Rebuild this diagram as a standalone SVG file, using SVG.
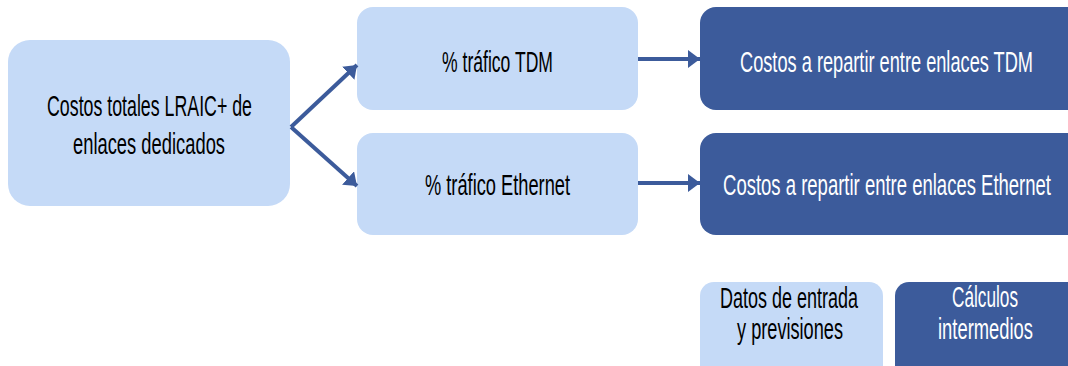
<svg xmlns="http://www.w3.org/2000/svg" width="1068" height="366" viewBox="0 0 1068 366">
<style>
.light{fill:#C5DAF7}
.dark{fill:#3C5B9B}
text{font-family:"Liberation Sans Narrow","Liberation Sans",Arial,sans-serif;font-size:29px;text-anchor:middle}
.tl{fill:#000}
.td{fill:#fff}
.conn{stroke:#3C5B9B;stroke-width:4;fill:none}
</style>
<defs>
<marker id="ah" markerUnits="userSpaceOnUse" markerWidth="14" markerHeight="20" refX="12" refY="9" orient="auto">
<path d="M0,0 L12,9 L0,18 Z" fill="#3C5B9B"/>
</marker>
</defs>
<g id="n-total">
<rect class="light" x="8" y="40" width="282" height="166" rx="22"/>
<text class="tl" transform="matrix(0.62,0,0,1,149.5,116)" textLength="330.6" lengthAdjust="spacingAndGlyphs">Costos totales LRAIC+ de</text>
<text class="tl" transform="matrix(0.62,0,0,1,149,154)" textLength="245.2" lengthAdjust="spacingAndGlyphs">enlaces dedicados</text>
</g>
<g id="n-tdm">
<rect class="light" x="357" y="7" width="281" height="103" rx="16"/>
<text class="tl" transform="matrix(0.62,0,0,1,497.5,71.5)" textLength="179" lengthAdjust="spacingAndGlyphs">% tráfico TDM</text>
</g>
<g id="n-eth">
<rect class="light" x="357" y="133" width="281" height="102" rx="16"/>
<text class="tl" transform="matrix(0.62,0,0,1,497.5,195)" textLength="233.9" lengthAdjust="spacingAndGlyphs">% tráfico Ethernet</text>
</g>
<g id="n-cost-tdm">
<path class="dark" d="M716,7 H1068 V110 H716 A16,16 0 0 1 700,94 V23 A16,16 0 0 1 716,7 Z"/>
<text class="td" transform="matrix(0.62,0,0,1,886.5,71.5)" textLength="472.6" lengthAdjust="spacingAndGlyphs">Costos a repartir entre enlaces TDM</text>
</g>
<g id="n-cost-eth">
<path class="dark" d="M716,133 H1068 V235 H716 A16,16 0 0 1 700,219 V149 A16,16 0 0 1 716,133 Z"/>
<text class="td" transform="matrix(0.62,0,0,1,887,195)" textLength="529" lengthAdjust="spacingAndGlyphs">Costos a repartir entre enlaces Ethernet</text>
</g>
<g id="legend-input">
<path class="light" d="M714,282 H869 A14,14 0 0 1 883,296 V366 H700 V296 A14,14 0 0 1 714,282 Z"/>
<text class="tl" transform="matrix(0.62,0,0,1,789,308)" textLength="222.6" lengthAdjust="spacingAndGlyphs">Datos de entrada</text>
<text class="tl" transform="matrix(0.62,0,0,1,790,339)" textLength="171" lengthAdjust="spacingAndGlyphs">y previsiones</text>
</g>
<g id="legend-calc">
<path class="dark" d="M909,282 H1068 V366 H895 V296 A14,14 0 0 1 909,282 Z"/>
<text class="td" transform="matrix(0.62,0,0,1,985,307)" textLength="106.5" lengthAdjust="spacingAndGlyphs">Cálculos</text>
<text class="td" transform="matrix(0.62,0,0,1,985.5,339)" textLength="153.2" lengthAdjust="spacingAndGlyphs">intermedios</text>
</g>
<g id="connectors">
<line class="conn" x1="291" y1="127" x2="357" y2="65" marker-end="url(#ah)"/>
<line class="conn" x1="291" y1="127" x2="357" y2="186" marker-end="url(#ah)"/>
<line class="conn" x1="638" y1="59" x2="700" y2="59" marker-end="url(#ah)"/>
<line class="conn" x1="638" y1="183" x2="700" y2="183" marker-end="url(#ah)"/>
</g>
</svg>
